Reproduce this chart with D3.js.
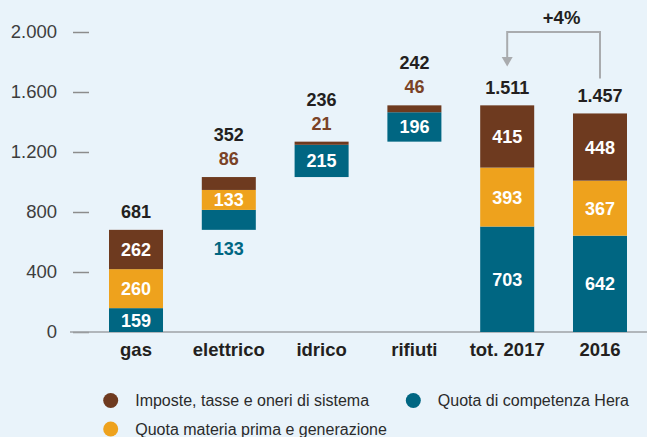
<!DOCTYPE html>
<html>
<head>
<meta charset="utf-8">
<script src="https://cdn.jsdelivr.net/npm/d3@7/dist/d3.min.js"></script>
<style>
  html, body { margin: 0; padding: 0; background: #e9f3fa; }
  svg { display: block; font-family: "Liberation Sans", Arial, Helvetica, sans-serif; }
</style>
</head>
<body>
<svg id="chart" width="647" height="437"></svg>
<script>
// Categories and components (values in € per customer)
const categories = ["gas", "elettrico", "idrico", "rifiuti", "tot. 2017", "2016"];
const quotaHera = [159, 133, 215, 196, 703, 642];
const quotaMateria = [260, 133, 0, 0, 393, 367];
const imposte = [262, 86, 21, 46, 415, 448];
const totali = [681, 352, 236, 242, 1511, 1457];
const yTicks = [0, 400, 800, 1200, 1600, 2000];
const variazione = "+4%";

const seriesNames = ["Imposte, tasse e oneri di sistema", "Quota di competenza Hera", "Quota materia prima e generazione"];
const colors = { hera: "#006682", materia: "#eea21d", imposte: "#6e3a1f" };

// the first four categories are stacked as a waterfall; the totals start at zero
const isStep = [true, true, true, true, false, false];
const bases = [];
let run = 0;
categories.forEach((c, i) => {
  if (isStep[i]) { bases.push(run); run += totali[i]; } else bases.push(0);
});

// how each segment label is placed: inside the bar, above it, or below it
const placement = {
  "elettrico": { hera: "below", materia: "in", imposte: "above" },
  "idrico": { hera: "in", imposte: "above" },
  "rifiuti": { hera: "in", imposte: "above" }
};

const it = d3.formatLocale({ decimal: ",", thousands: ".", grouping: [3], currency: ["€", ""] });
const fmt = it.format(",d");

const svg = d3.select("#chart");
const x = d3.scaleBand().domain(categories).range([109, 627]).paddingInner(0.418).paddingOuter(0);
const y = d3.scaleLinear().domain([0, 2000]).range([332, 32]);

// y axis (ticks only, no domain line)
const yAxis = d3.axisLeft(y).tickValues(yTicks).tickSize(16).tickPadding(16).tickFormat(fmt);
const gy = svg.append("g").attr("transform", "translate(89,0)").call(yAxis);
gy.select(".domain").remove();
gy.selectAll(".tick line").attr("stroke", "#8c8c8c").attr("stroke-width", 1.5);
gy.selectAll(".tick text").attr("fill", "#3d3d3d").style("font-size", "18.5px").attr("font-family", null);

// baseline
svg.append("line").attr("x1", 70).attr("x2", 647).attr("y1", y(0)).attr("y2", y(0))
  .attr("stroke", "#9ea2a6").attr("stroke-width", 1.5);

// category labels
svg.append("g").selectAll("text").data(categories).join("text")
  .attr("x", d => x(d) + x.bandwidth() / 2)
  .attr("y", 356)
  .attr("text-anchor", "middle")
  .attr("fill", "#231f20")
  .style("font-size", "18.5px").style("font-weight", "bold")
  .text(d => d);

// bars
const order = [["hera", quotaHera], ["materia", quotaMateria], ["imposte", imposte]];
const bars = svg.append("g");
const labels = svg.append("g").style("font-size", "18px").style("font-weight", "bold");

categories.forEach((cat, i) => {
  let lo = bases[i];
  const cx = x(cat) + x.bandwidth() / 2;
  const barBottom = y(bases[i]);
  const barTop = y(bases[i] + totali[i]);
  let aboveCount = 0;
  order.forEach(([key, arr]) => {
    const v = arr[i];
    if (!v) return;
    const hi = lo + v;
    bars.append("rect")
      .attr("x", x(cat)).attr("width", x.bandwidth())
      .attr("y", y(hi)).attr("height", y(lo) - y(hi))
      .attr("fill", colors[key]);
    const where = (placement[cat] && placement[cat][key]) || "in";
    if (where === "in") {
      labels.append("text").attr("x", cx).attr("y", (y(lo) + y(hi)) / 2).attr("dy", "0.36em")
        .attr("text-anchor", "middle").attr("fill", "#ffffff").text(fmt(v));
    } else if (where === "below") {
      labels.append("text").attr("x", cx).attr("y", barBottom + 25)
        .attr("text-anchor", "middle").attr("fill", colors[key]).text(fmt(v));
    } else {
      aboveCount++;
      labels.append("text").attr("x", cx).attr("y", barTop - 12)
        .attr("text-anchor", "middle").attr("fill", key === "imposte" ? "#7a4226" : colors[key]).text(fmt(v));
    }
    lo = hi;
  });
  labels.append("text").attr("x", cx).attr("y", barTop - 11.5 - aboveCount * 24.5)
    .attr("text-anchor", "middle").attr("fill", "#231f20").text(fmt(totali[i]));
});

// year-on-year comparison bracket
const xa = x("tot. 2017") + x.bandwidth() / 2;
const xb = x("2016") + x.bandwidth() / 2;
const yBr = 32;
svg.append("path")
  .attr("d", `M${xb},${y(totali[5]) - 35}V${yBr}H${xa}V${58}`)
  .attr("fill", "none").attr("stroke", "#a9abae").attr("stroke-width", 2);
svg.append("path")
  .attr("d", `M${xa - 5.5},${57}L${xa + 5.5},${57}L${xa},${66.5}Z`)
  .attr("fill", "#a9abae");
svg.append("text").attr("x", (xa + xb) / 2 + 8).attr("y", 24)
  .attr("text-anchor", "middle").attr("fill", "#231f20")
  .style("font-size", "18.5px").style("font-weight", "bold").text(variazione);

// legend
const legendItems = [
  { name: seriesNames[0], color: colors.imposte, cx: 110.7, cy: 400.5 },
  { name: seriesNames[1], color: colors.hera, cx: 413.3, cy: 400.5 },
  { name: seriesNames[2], color: colors.materia, cx: 110.7, cy: 429 }
];
const lg = svg.append("g").selectAll("g").data(legendItems).join("g");
lg.append("circle").attr("cx", d => d.cx).attr("cy", d => d.cy).attr("r", 7.5).attr("fill", d => d.color);
lg.append("text").attr("x", d => d.cx + 24.5).attr("y", d => d.cy + 5.5)
  .attr("fill", "#2b2b2b").style("font-size", "16px").text(d => d.name);
</script>
</body>
</html>
